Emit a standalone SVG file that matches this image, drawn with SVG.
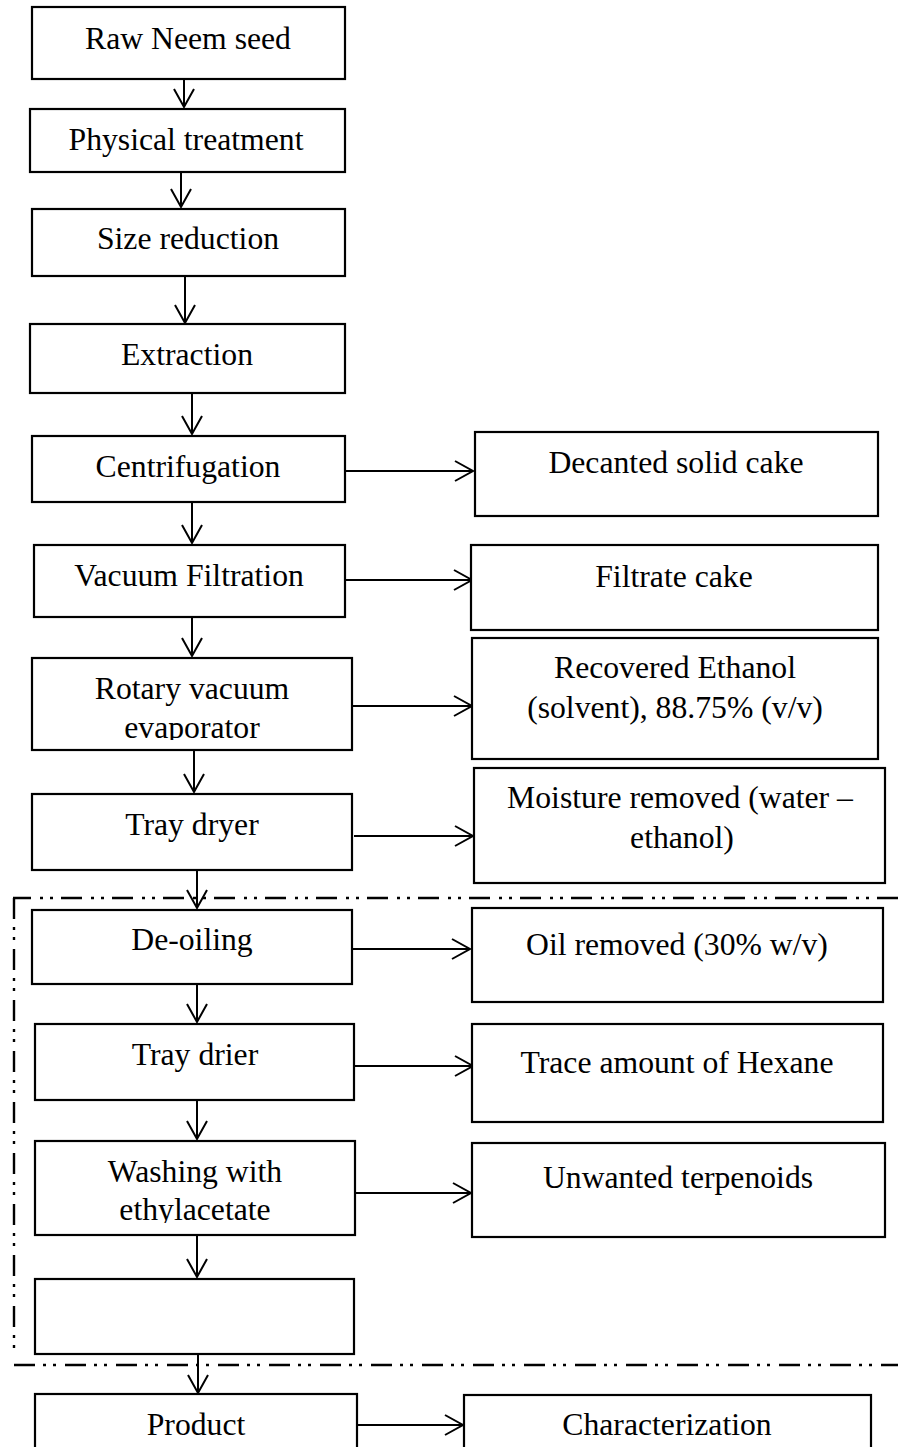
<svg xmlns="http://www.w3.org/2000/svg" width="898" height="1447" viewBox="0 0 898 1447">
<style>
.box{fill:#fff;stroke:#000;stroke-width:2.2}
.t{font-family:"Liberation Serif","Times New Roman",serif;font-size:31.7px;fill:#000;text-anchor:middle}
.c{fill:none;stroke:#000;stroke-width:2}
.dd{fill:none;stroke:#000;stroke-width:2.4;stroke-dasharray:21 8 3 7 3 9}
</style>
<defs>
<marker id="ah" markerUnits="userSpaceOnUse" markerWidth="30" markerHeight="30" refX="0" refY="0" orient="auto" overflow="visible">
<path d="M-18,-10 L0,0 L-18,10" fill="none" stroke="#000" stroke-width="2"/>
</marker>
<clipPath id="clipRot"><rect x="30" y="655" width="330" height="85"/></clipPath>
<clipPath id="clipWash"><rect x="30" y="1140" width="330" height="83"/></clipPath>
</defs>
<rect width="898" height="1447" fill="#fff"/>

<g id="boundary">
<path class="dd" d="M898,898 H13"/>
<path class="dd" d="M14,898 V1357"/>
<path class="dd" d="M14,1365 H898"/>
</g>

<g id="connectors">
<path class="c" marker-end="url(#ah)" d="M184,79 V107"/>
<path class="c" marker-end="url(#ah)" d="M181,172 V207"/>
<path class="c" marker-end="url(#ah)" d="M185,276 V323"/>
<path class="c" marker-end="url(#ah)" d="M192,393 V434"/>
<path class="c" marker-end="url(#ah)" d="M192,502 V543"/>
<path class="c" marker-end="url(#ah)" d="M192,617 V656"/>
<path class="c" marker-end="url(#ah)" d="M194,750 V792"/>
<path class="c" marker-end="url(#ah)" d="M197,870 V908"/>
<path class="c" marker-end="url(#ah)" d="M197,984 V1022"/>
<path class="c" marker-end="url(#ah)" d="M197,1100 V1139"/>
<path class="c" marker-end="url(#ah)" d="M197,1235 V1277"/>
<path class="c" marker-end="url(#ah)" d="M198,1354 V1393"/>
<path class="c" marker-end="url(#ah)" d="M345,471 H473"/>
<path class="c" marker-end="url(#ah)" d="M345,580 H472"/>
<path class="c" marker-end="url(#ah)" d="M352,706 H472"/>
<path class="c" marker-end="url(#ah)" d="M354,836 H473"/>
<path class="c" marker-end="url(#ah)" d="M351,949 H470"/>
<path class="c" marker-end="url(#ah)" d="M354,1066 H473"/>
<path class="c" marker-end="url(#ah)" d="M355,1193 H471"/>
<path class="c" marker-end="url(#ah)" d="M357,1425 H463"/>
</g>

<g id="raw"><rect class="box" x="32" y="7" width="313" height="72"/><text class="t" x="188" y="49">Raw Neem seed</text></g>
<g id="physical"><rect class="box" x="30" y="109" width="315" height="63"/><text class="t" x="186" y="150">Physical treatment</text></g>
<g id="size"><rect class="box" x="32" y="209" width="313" height="67"/><text class="t" x="188" y="249">Size reduction</text></g>
<g id="extraction"><rect class="box" x="30" y="324" width="315" height="69"/><text class="t" x="187" y="365">Extraction</text></g>
<g id="centrifugation"><rect class="box" x="32" y="436" width="313" height="66"/><text class="t" x="188" y="477">Centrifugation</text></g>
<g id="vacuum"><rect class="box" x="34" y="545" width="311" height="72"/><text class="t" x="189" y="586">Vacuum Filtration</text></g>
<g id="rotary"><rect class="box" x="32" y="658" width="320" height="92"/><g clip-path="url(#clipRot)"><text class="t" x="192" y="699">Rotary vacuum</text><text class="t" x="192" y="738">evaporator</text></g></g>
<g id="traydryer"><rect class="box" x="32" y="794" width="320" height="76"/><text class="t" x="192" y="835">Tray dryer</text></g>
<g id="deoiling"><rect class="box" x="32" y="910" width="320" height="74"/><text class="t" x="192" y="950">De-oiling</text></g>
<g id="traydrier"><rect class="box" x="35" y="1024" width="319" height="76"/><text class="t" x="195" y="1065">Tray drier</text></g>
<g id="washing"><rect class="box" x="35" y="1141" width="320" height="94"/><g clip-path="url(#clipWash)"><text class="t" x="195" y="1182">Washing with</text><text class="t" x="195" y="1220">ethylacetate</text></g></g>
<g id="empty"><rect class="box" x="35" y="1279" width="319" height="75"/></g>
<g id="product"><rect class="box" x="35" y="1394" width="322" height="70"/><text class="t" x="196" y="1435">Product</text></g>

<g id="decanted"><rect class="box" x="475" y="432" width="403" height="84"/><text class="t" x="676" y="473">Decanted solid cake</text></g>
<g id="filtrate"><rect class="box" x="471" y="545" width="407" height="85"/><text class="t" x="674" y="587">Filtrate cake</text></g>
<g id="recovered"><rect class="box" x="472" y="638" width="406" height="121"/><text class="t" x="675" y="678">Recovered Ethanol</text><text class="t" x="675" y="718">(solvent), 88.75% (v/v)</text></g>
<g id="moisture"><rect class="box" x="474" y="768" width="411" height="115"/><text class="t" x="680" y="808">Moisture removed (water –</text><text class="t" x="682" y="848">ethanol)</text></g>
<g id="oil"><rect class="box" x="472" y="908" width="411" height="94"/><text class="t" x="677" y="955">Oil removed (30% w/v)</text></g>
<g id="trace"><rect class="box" x="472" y="1024" width="411" height="98"/><text class="t" x="677" y="1073">Trace amount of Hexane</text></g>
<g id="unwanted"><rect class="box" x="472" y="1143" width="413" height="94"/><text class="t" x="678" y="1188">Unwanted terpenoids</text></g>
<g id="characterization"><rect class="box" x="464" y="1395" width="407" height="70"/><text class="t" x="667" y="1435">Characterization</text></g>
</svg>
